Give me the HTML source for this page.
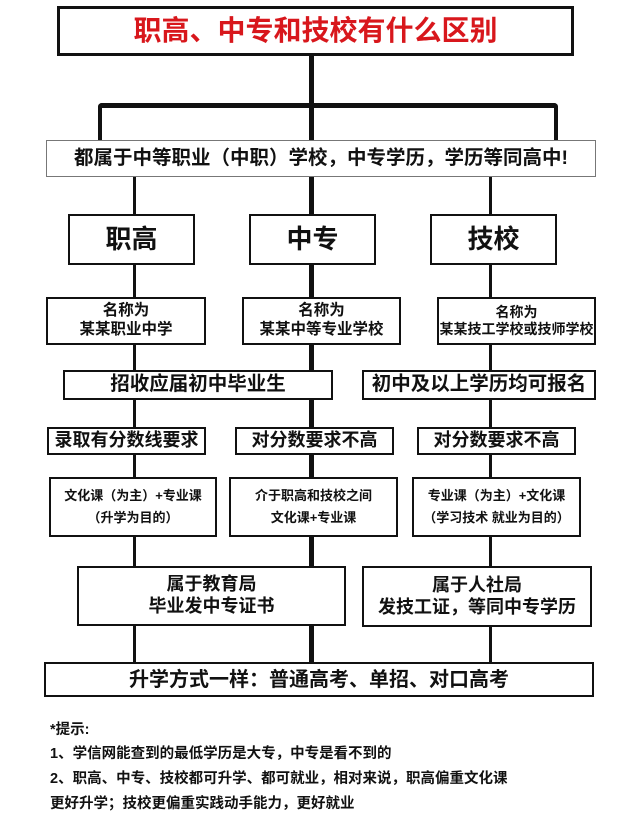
<!DOCTYPE html>
<html><head><meta charset="utf-8"><style>
body{margin:0;width:640px;height:819px;background:#fff;position:relative;overflow:hidden;font-family:"Liberation Sans","Noto Sans CJK SC",sans-serif;font-weight:bold;color:#111}
.b{position:absolute;box-sizing:border-box;border:2px solid #111;background:#fff;display:flex;align-items:center;justify-content:center;text-align:center;line-height:1.2;white-space:nowrap}
.l{position:absolute;background:#111}
.n{position:absolute;left:50px;font-size:14.5px;white-space:nowrap}
</style></head><body>
<!-- lines -->
<div class="l" style="left:309px;top:54px;width:5px;height:610px"></div>
<div class="l" style="left:98px;top:103px;width:460px;height:5px;border-radius:4px 4px 0 0"></div>
<div class="l" style="left:98px;top:103px;width:4px;height:38px;border-radius:4px 0 0 0"></div>
<div class="l" style="left:554px;top:103px;width:4px;height:38px;border-radius:0 4px 0 0"></div>
<div class="l" style="left:133px;top:176px;width:3px;height:488px"></div>
<div class="l" style="left:489px;top:176px;width:3px;height:488px"></div>

<div class="b" style="left:57px;top:6px;width:517px;height:50px;border-width:3px;color:#d8171c;font-size:28px">职高、中专和技校有什么区别</div>
<div class="b" style="left:46px;top:140px;width:550px;height:37px;border:1px solid #777;font-size:19.5px">都属于中等职业（中职）学校，中专学历，学历等同高中!</div>

<div class="b" style="left:68px;top:214px;width:127px;height:51px;font-size:26px">职高</div>
<div class="b" style="left:249px;top:214px;width:127px;height:51px;font-size:26px">中专</div>
<div class="b" style="left:430px;top:214px;width:127px;height:51px;font-size:26px">技校</div>

<div class="b" style="left:46px;top:297px;width:160px;height:48px;font-size:15.5px">名称为<br>某某职业中学</div>
<div class="b" style="left:242px;top:297px;width:159px;height:48px;font-size:15.5px">名称为<br>某某中等专业学校</div>
<div class="b" style="left:437px;top:297px;width:159px;height:48px;font-size:14px">名称为<br>某某技工学校或技师学校</div>

<div class="b" style="left:63px;top:370px;width:270px;height:30px;font-size:19.5px">招收应届初中毕业生</div>
<div class="b" style="left:362px;top:370px;width:234px;height:30px;font-size:19.5px">初中及以上学历均可报名</div>

<div class="b" style="left:47px;top:427px;width:159px;height:28px;font-size:18px">录取有分数线要求</div>
<div class="b" style="left:235px;top:427px;width:159px;height:28px;font-size:18px">对分数要求不高</div>
<div class="b" style="left:417px;top:427px;width:159px;height:28px;font-size:18px">对分数要求不高</div>

<div class="b" style="left:49px;top:477px;width:168px;height:60px;font-size:13px;line-height:1.7">文化课（为主）+专业课<br>（升学为目的）</div>
<div class="b" style="left:229px;top:477px;width:169px;height:60px;font-size:13px;line-height:1.7">介于职高和技校之间<br>文化课+专业课</div>
<div class="b" style="left:412px;top:477px;width:169px;height:60px;font-size:13px;line-height:1.7">专业课（为主）+文化课<br>（学习技术 就业为目的）</div>

<div class="b" style="left:77px;top:566px;width:269px;height:60px;font-size:18px">属于教育局<br>毕业发中专证书</div>
<div class="b" style="left:362px;top:566px;width:230px;height:61px;font-size:18px">属于人社局<br>发技工证，等同中专学历</div>

<div class="b" style="left:44px;top:662px;width:550px;height:35px;font-size:20px">升学方式一样：普通高考、单招、对口高考</div>

<div class="n" style="top:718px">*提示:</div>
<div class="n" style="top:742px">1、学信网能查到的最低学历是大专，中专是看不到的</div>
<div class="n" style="top:767px">2、职高、中专、技校都可升学、都可就业，相对来说，职高偏重文化课</div>
<div class="n" style="top:792px">更好升学；技校更偏重实践动手能力，更好就业</div>
</body></html>
